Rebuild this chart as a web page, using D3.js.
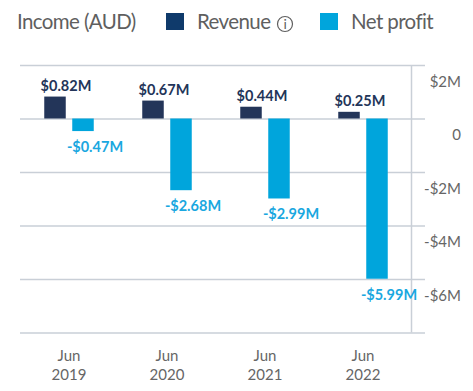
<!DOCTYPE html>
<html>
<head>
<meta charset="utf-8">
<script src="https://cdnjs.cloudflare.com/ajax/libs/d3/7.8.5/d3.min.js"></script>
<style>
    html, body { margin: 0; padding: 0; background: #fff; }
    text { font-family: "Lato", "Noto Sans", sans-serif; }
    .axis path { display: none; }
    .axis line { stroke: #c9cfd7; stroke-width: 1.5; }
    .axis text { fill: #666; font-size: 15px; }
    .legend text { fill: #5f5f5f; font-size: 20.5px; letter-spacing: -0.6px; }
    .value { font-size: 14.5px; font-weight: 700; text-anchor: middle; }
</style>
</head>
<body>
<div id="box-div"></div>
<script>
const periods = ['2019', '2020', '2021', '2022']
const revenue = [0.82, 0.67, 0.44, 0.25]
const netProfit = [-0.47, -2.68, -2.99, -5.99]
const revenueLabels = ['$0.82M', '$0.67M', '$0.44M', '$0.25M']
const profitLabels = ['-$0.47M', '-$2.68M', '-$2.99M', '-$5.99M']
const yTicks = [2, 0, -2, -4, -6, -8]
const yTickLabels = ['$2M', '0', '-$2M', '-$4M', '-$6M', '']

const revenueColor = '#233559'
const profitColor = '#00a5dc'

let dms = {
    width: 473,
    height: 391,
    left: 20,
    right: 412,
    gridEnd: 425,
    labelEnd: 461,
    top: 65,
    bottom: 332.5
}

const box = d3.select('#box-div').append('svg')
    .attr('width', dms.width)
    .attr('height', dms.height)
    .style('display', 'block')

const xScale = d3.scaleBand()
    .domain(periods)
    .range([dms.left, dms.right])

const yScale = d3.scaleLinear()
    .domain([-8, 2])
    .range([dms.bottom, dms.top])

const barWidth = 21.5
const barGap = 6.5

// gridlines and right hand labels
const yAxis = box.append('g')
    .attr('class', 'axis')
    .attr('transform', `translate(${dms.right}, 0)`)
    .call(d3.axisRight(yScale)
        .tickValues(yTicks)
        .tickSize(dms.gridEnd - dms.right)
        .tickFormat((d, i) => yTickLabels[i]))

yAxis.selectAll('.tick line')
    .attr('x1', dms.left - dms.right)

yAxis.selectAll('.tick text')
    .attr('x', dms.labelEnd - dms.right)
    .attr('dy', 21)
    .style('text-anchor', 'end')

box.append('line')
    .attr('x1', dms.right - 0.5)
    .attr('x2', dms.right - 0.5)
    .attr('y1', dms.top)
    .attr('y2', dms.bottom)
    .attr('stroke', '#c9cfd7')
    .attr('stroke-width', 1.5)

// x labels, month over year
const xLabels = box.append('g')
    .attr('class', 'axis')
    .selectAll('text')
    .data(periods)
    .join('text')
    .attr('text-anchor', 'middle')
    .attr('y', 361)

xLabels.append('tspan')
    .attr('x', d => xScale(d) + xScale.bandwidth() / 2)
    .text('Jun')

xLabels.append('tspan')
    .attr('x', d => xScale(d) + xScale.bandwidth() / 2)
    .attr('dy', 19)
    .text(d => d)

// bars
const center = d => xScale(d) + xScale.bandwidth() / 2

box.append('g').selectAll('rect')
    .data(periods)
    .join('rect')
    .attr('x', d => center(d) - barGap / 2 - barWidth)
    .attr('y', (d, i) => yScale(revenue[i]))
    .attr('width', barWidth)
    .attr('height', (d, i) => yScale(0) - yScale(revenue[i]))
    .attr('fill', revenueColor)

box.append('g').selectAll('rect')
    .data(periods)
    .join('rect')
    .attr('x', d => center(d) + barGap / 2)
    .attr('y', yScale(0))
    .attr('width', barWidth)
    .attr('height', (d, i) => yScale(netProfit[i]) - yScale(0))
    .attr('fill', profitColor)

// value labels
box.append('g').selectAll('text')
    .data(periods)
    .join('text')
    .attr('class', 'value')
    .attr('x', d => center(d) - 3)
    .attr('y', (d, i) => yScale(revenue[i]) - 6)
    .attr('fill', revenueColor)
    .text((d, i) => revenueLabels[i])

box.append('g').selectAll('text')
    .data(periods)
    .join('text')
    .attr('class', 'value')
    .attr('x', d => center(d) + 26)
    .attr('y', (d, i) => yScale(netProfit[i]) + 21)
    .attr('fill', '#1aa7e0')
    .text((d, i) => profitLabels[i])

// legend
const legend = box.append('g').attr('class', 'legend')

legend.append('text').attr('x', 17).attr('y', 29).text('Income (AUD)')
legend.append('rect').attr('x', 166).attr('y', 13).attr('width', 18).attr('height', 17).attr('fill', '#0f3a6b')
legend.append('text').attr('x', 197).attr('y', 29).text('Revenue')
legend.append('rect').attr('x', 320).attr('y', 13).attr('width', 18).attr('height', 17).attr('fill', profitColor)
legend.append('text').attr('x', 351).attr('y', 29).text('Net profit')

legend.append('circle')
    .attr('cx', 285)
    .attr('cy', 24)
    .attr('r', 7.5)
    .attr('fill', 'none')
    .attr('stroke', '#5f5f5f')
    .attr('stroke-width', 1.2)

legend.append('text')
    .attr('x', 285)
    .attr('y', 29)
    .attr('text-anchor', 'middle')
    .style('font-size', '14px')
    .text('i')
</script>
</body>
</html>
